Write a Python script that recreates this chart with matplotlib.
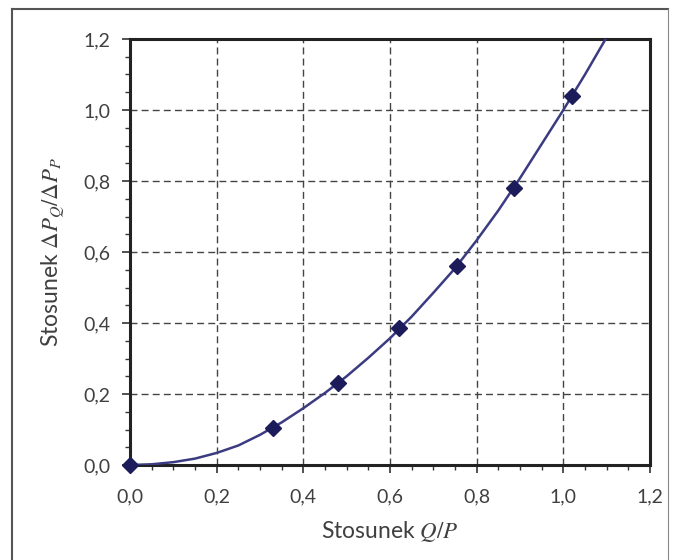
import matplotlib
matplotlib.use("Agg")
import matplotlib.pyplot as plt
from matplotlib.ticker import MultipleLocator, FuncFormatter
from matplotlib.lines import Line2D

plt.rcParams['font.family'] = ['Lato', 'DejaVu Sans']
plt.rcParams['mathtext.fontset'] = 'stix'

# punkty pomiarowe
x_pts = [0.0, 0.33, 0.48, 0.62, 0.755, 0.885, 1.02]
y_pts = [0.0, 0.105, 0.23, 0.385, 0.56, 0.78, 1.04]

# krzywa
x_curve = [0.0, 0.05, 0.1, 0.15, 0.2, 0.25, 0.3, 0.35, 0.4, 0.45, 0.5, 0.55, 0.6,
           0.65, 0.7, 0.75, 0.8, 0.85, 0.9, 0.95, 1.0, 1.05, 1.1]
y_curve = [0.0, 0.002, 0.008, 0.018, 0.034, 0.055, 0.085, 0.12, 0.16, 0.203, 0.25,
           0.302, 0.357, 0.418, 0.485, 0.554, 0.633, 0.717, 0.808, 0.904, 1.0, 1.1, 1.205]

LINE_COLOR = '#3b3b82'
MARK_COLOR = '#1c1c5a'
TEXT_COLOR = '#404040'

fig = plt.figure(figsize=(6.75, 5.6), dpi=100)
ax = fig.add_axes([130 / 675, 1 - 465 / 560, 520 / 675, 426 / 560])

ax.plot(x_curve, y_curve, color=LINE_COLOR, lw=1.8, zorder=3, clip_on=True)
ax.plot(x_pts, y_pts, linestyle='none', marker='D', ms=8.5, color=MARK_COLOR,
        zorder=4, clip_on=False)

ax.set_xlim(0, 1.2)
ax.set_ylim(0, 1.2)
ax.xaxis.set_major_locator(MultipleLocator(0.2))
ax.yaxis.set_major_locator(MultipleLocator(0.2))
ax.xaxis.set_minor_locator(MultipleLocator(0.05))
ax.yaxis.set_minor_locator(MultipleLocator(0.05))
fmt = FuncFormatter(lambda v, p: f"{v:.1f}".replace('.', ','))
ax.xaxis.set_major_formatter(fmt)
ax.yaxis.set_major_formatter(fmt)

ax.grid(True, which='major', linestyle=(0, (5, 3)), color='#444444', lw=1.0)
for s in ax.spines.values():
    s.set_linewidth(2.2)
    s.set_color('#222222')

ax.tick_params(which='major', direction='out', length=6, width=1.2,
               labelsize=14, labelcolor=TEXT_COLOR, color='#333333', pad=11)
ax.tick_params(axis='y', which='major', pad=8)
ax.tick_params(which='minor', direction='out', length=3.5, width=1.0, color='#333333')

ax.set_xlabel('Stosunek $Q/P$', fontsize=16.5, color=TEXT_COLOR, labelpad=10)
ax.set_ylabel(r'Stosunek $\Delta P_Q/\Delta P_P$', fontsize=16.5, color=TEXT_COLOR, labelpad=12)

# ramka skanu
fig.add_artist(Line2D([12 / 675, 12 / 675], [0, 1 - 9 / 560], transform=fig.transFigure,
                      color='#555555', lw=1.5))
fig.add_artist(Line2D([12 / 675, 668 / 675], [1 - 9 / 560, 1 - 9 / 560], transform=fig.transFigure,
                      color='#555555', lw=1.5))
fig.add_artist(Line2D([668 / 675, 668 / 675], [0, 1 - 9 / 560], transform=fig.transFigure,
                      color='#888888', lw=0.8))

fig.savefig('out.png', dpi=100)
plt.close(fig)
